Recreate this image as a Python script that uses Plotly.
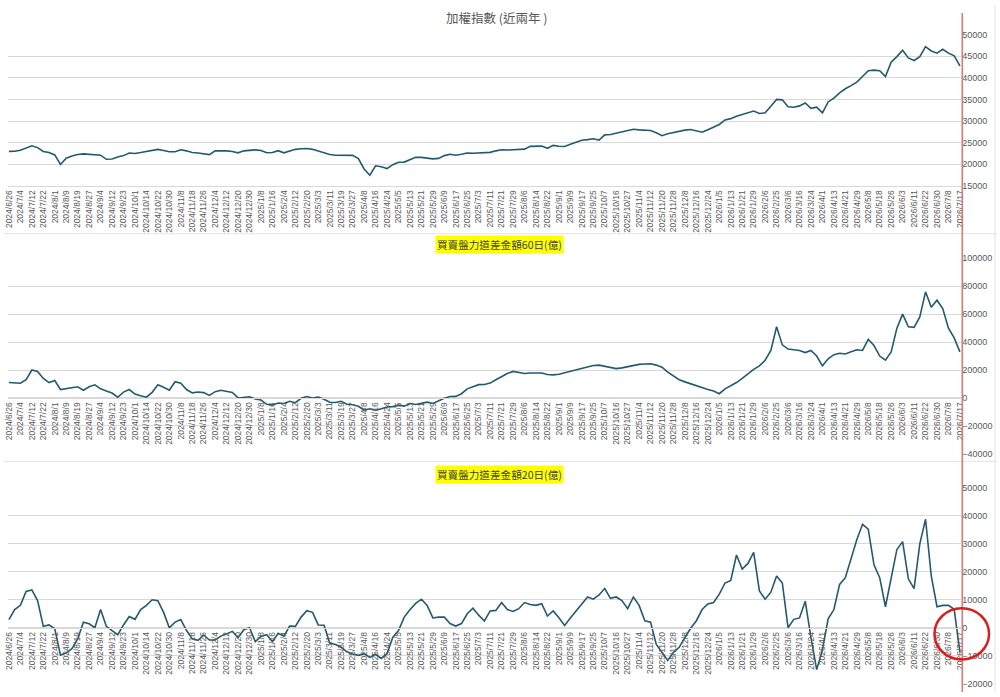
import plotly.graph_objects as go

# ---------------- data ----------------
tick_labels = [
    "2024/6/26", "2024/7/4", "2024/7/12", "2024/7/22", "2024/8/1", "2024/8/9", "2024/8/19", "2024/8/27",
    "2024/9/4", "2024/9/12", "2024/9/23", "2024/10/1", "2024/10/14", "2024/10/22", "2024/10/30", "2024/11/8",
    "2024/11/18", "2024/11/26", "2024/12/4", "2024/12/12", "2024/12/20", "2024/12/30", "2025/1/8", "2025/1/16",
    "2025/2/4", "2025/2/12", "2025/2/20", "2025/3/3", "2025/3/11", "2025/3/19", "2025/3/27", "2025/4/8",
    "2025/4/16", "2025/4/24", "2025/5/5", "2025/5/13", "2025/5/21", "2025/5/29", "2025/6/9", "2025/6/17",
    "2025/6/25", "2025/7/3", "2025/7/11", "2025/7/21", "2025/7/29", "2025/8/6", "2025/8/14", "2025/8/22",
    "2025/9/1", "2025/9/9", "2025/9/17", "2025/9/25", "2025/10/7", "2025/10/16", "2025/10/27", "2025/11/4",
    "2025/11/12", "2025/11/20", "2025/11/28", "2025/12/8", "2025/12/16", "2025/12/24", "2026/1/5", "2026/1/13",
    "2026/1/21", "2026/1/29", "2026/2/6", "2026/2/25", "2026/3/6", "2026/3/16", "2026/3/24", "2026/4/1",
    "2026/4/13", "2026/4/21", "2026/4/29", "2026/5/8", "2026/5/18", "2026/5/26", "2026/6/3", "2026/6/11",
    "2026/6/22", "2026/6/30", "2026/7/8", "2026/7/17",
]
DAYS_PER_LABEL = 6   # trading days between tick labels
DAYS_PER_POINT = 3   # trading days between sampled values

# 加權指數 (sampled every 3 trading days)
taiex = [
    22990, 23000, 23250, 23700, 24270, 23850, 22950, 22700, 22150, 19950,
    21400, 21900, 22250, 22400, 22250, 22230, 22100, 21150, 21200, 21700,
    22000, 22600, 22500, 22700, 23000, 23300, 23450, 23200, 22900, 22900,
    23350, 23100, 22700, 22600, 22450, 22230, 23100, 23150, 23100, 22950,
    22650, 23100, 23250, 23330, 23200, 22650, 22700, 23150, 22650, 23100,
    23450, 23600, 23650, 23450, 23000, 22600, 22250, 22100, 22100, 22200,
    22050, 21300, 18900, 17450, 19650, 19410, 19000, 19900, 20480, 20500,
    21000, 21610, 21600, 21500, 21250, 21350, 22000, 22300, 22100, 22300,
    22600, 22550, 22600, 22550, 22750, 23100, 23370, 23300, 23370, 23450,
    23500, 24140, 24250, 24200, 23700, 24370, 24150, 24100, 24650, 25100,
    25550, 25700, 25900, 25600, 26800, 26900, 27200, 27650, 27900, 28090,
    27950, 27900, 27800, 27300, 26600, 27050, 27350, 27600, 27900, 28050,
    27700, 27400, 28000, 28600, 29200, 30250, 30550, 31100, 31500, 31900,
    32300, 31750, 31900, 33400, 35000, 34900, 33300, 33200, 33500, 34180,
    32950, 33200, 31900, 34410, 35300, 36500, 37460, 38200, 39000, 40300,
    41640, 41780, 41640, 40300, 43600, 44900, 46360, 44600, 44000, 44900,
    47200, 46200, 45700, 46600, 45700, 45100, 42780,
]

# 買賣盤力道差金額60日(億)
diff60 = [
    11000, 10500, 10500, 13000, 20000, 19000, 14000, 11000, 12500, 6000,
    6500, 7000, 8000, 5500, 8000, 9400, 6500, 5000, 3500, 500,
    4200, 6000, 2800, 1500, 500, 4000, 9400, 7700, 5500, 11600,
    10500, 6000, 3600, 4200, 3800, 1800, 4500, 5500, 4800, 3900,
    0, 500, 800, -800, -1500, -4600, -5000, -3600, -4000, -2400,
    -3400, -300, 1000, 0, 600, -900, -3100, -3300, -2400, -4500,
    -4900, -6000, -8800, -7800, -8800, -7800, -6500, -6200, -5200, -5900,
    -4000, -4700, -3800, -3000, -4000, -2000, -300, 1000, 1100, 3000,
    6500, 8000, 9500, 9600, 10600, 13000, 15500, 17500, 19000, 18500,
    17500, 17800, 18000, 17800, 16800, 16500, 17000, 18000, 19500, 20500,
    21500, 22500, 23200, 23500, 22500, 21500, 21000, 21500, 22500, 23500,
    24000, 24300, 24500, 23500, 22000, 18500, 15500, 13000, 11500, 10000,
    9000, 7500, 6000, 5000, 3000, 6500, 8500, 11000, 14000, 17500,
    20500, 23000, 27000, 34000, 51000, 38000, 35000, 34500, 34000, 32500,
    34000, 30000, 23000, 28000, 31000, 32000, 31500, 33000, 34500, 34000,
    42000, 37500, 30000, 27000, 33000, 50000, 60000, 51000, 50600, 58000,
    76000, 65000, 70000, 64000, 50000, 43000, 33000,
]

# 買賣盤力道差金額20日(億)
diff20 = [
    2900, 6500, 8000, 13000, 13500, 9700, 500, 1000, -400, -9800,
    -9000, -7500, -4000, 2000, 1400, 0, 6500, 500, -1000, -2500,
    1000, 4000, 3000, 6500, 8000, 10000, 9700, 5500, 0, 2000,
    2900, -1000, -4000, -4500, -2600, -4400, -4400, -3000, -2200, -1300,
    -3500, -700, 0, -5000, -3100, -2500, -5000, -2000, -3000, 600,
    500, 3800, 6100, 5500, 1000, 900, -5500, -6000, -7000, -8600,
    -9400, -9900, -9300, -10600, -9500, -11000, -9300, -3500, -1000, 3800,
    6400, 8700, 10200, 8000, 3500, 3800, 3800, 1500, 600, 1500,
    5000, 7000, 4500, 2400, 6000, 6200, 9000, 6500, 5800, 6800,
    9000, 8300, 8000, 8600, 4200, 6000, 3600, 800, 3500, 6000,
    8500, 11000, 10200, 11700, 14000, 10500, 11000, 9700, 6800, 11000,
    8000, 2500, 2000, -6000, -8800, -11700, -8800, -7000, -3500, -200,
    2500, 6500, 8500, 9000, 12000, 16000, 16900, 26000, 21000, 23000,
    27000, 13200, 10200, 12700, 18500, 16000, 0, 3000, 3500, 9500,
    -3500, -15000, -8000, 3200, 6500, 15500, 17900, 25000, 31500, 37000,
    35300, 22500, 17900, 7500, 17500, 28000, 30800, 17500, 14000, 30000,
    38800, 18500, 7500, 8000, 8000, 6600, -8700,
]

titles = ["加權指數 (近兩年 )", "買賣盤力道差金額60日(億)", "買賣盤力道差金額20日(億)"]
y_ranges = [(15000, 50000), (-40000, 100000), (-20000, 50000)]
y_dtick = [5000, 20000, 10000]

# ---------------- figure ----------------
W, H = 1000, 697
LINE = "#225a70"
GRID = "#d9d9d9"
TICKC = "#595959"

def py(pix):
    return 1 - pix / H

x_dom = [0.004, 0.964]
panels = [(30, 183.5), (257, 455.3), (490, 688.5)]
series = [taiex, diff60, diff20]

fig = go.Figure()
tickvals = [k * DAYS_PER_LABEL for k in range(len(tick_labels))]

for p, (vals, (top, bot)) in enumerate(zip(series, panels)):
    xs = [i * DAYS_PER_POINT for i in range(len(vals))]
    sfx = "" if p == 0 else str(p + 1)
    fig.add_trace(go.Scatter(
        x=xs, y=vals, mode="lines", xaxis="x" + sfx, yaxis="y" + sfx,
        line=dict(color=LINE, width=1.6), showlegend=False, hoverinfo="skip"))
    lo, hi = y_ranges[p]
    ydom = [py(bot), py(top)]
    xa = dict(domain=x_dom, range=[-0.5, 498.7], tickmode="array", tickvals=tickvals,
              ticktext=tick_labels, tickangle=-90, showgrid=False, zeroline=False,
              tickfont=dict(size=8.5, color=TICKC, family="Liberation Sans"),
              showline=True, linecolor=GRID, linewidth=1, ticks="",
              ticklabeloverflow="allow")
    if p == 0:
        xa.update(anchor="y")
    else:
        zero_pix = top + (hi - 0) / (hi - lo) * (bot - top)
        xa.update(anchor="free", position=py(zero_pix))
    ya = dict(domain=ydom, range=[lo, hi], dtick=y_dtick[p], side="right",
              anchor="x" + sfx, showgrid=True, gridcolor=GRID, gridwidth=1,
              zeroline=False, showline=False, ticks="",
              tickfont=dict(size=9, color=TICKC, family="Liberation Sans"),
              tickformat="d", ticklabeloverflow="allow")
    fig.layout["xaxis" + sfx] = xa
    fig.layout["yaxis" + sfx] = ya

annotations = [
    dict(text=titles[0], x=496 / W, y=py(13), xref="paper", yref="paper",
         xanchor="center", yanchor="middle",
         showarrow=False, font=dict(size=12.5, color="#595959", family="Noto Sans CJK TC")),
    dict(text=titles[1], x=498.5 / W, y=py(243), xref="paper", yref="paper",
         xanchor="center", yanchor="middle",
         showarrow=False, bgcolor="#ffff00", borderpad=1,
         font=dict(size=10.6, color="#404040", family="Noto Sans CJK TC")),
    dict(text=titles[2], x=498.5 / W, y=py(476), xref="paper", yref="paper",
         xanchor="center", yanchor="middle",
         showarrow=False, bgcolor="#ffff00", borderpad=1,
         font=dict(size=10.6, color="#404040", family="Noto Sans CJK TC")),
]

shapes = [
    dict(type="line", xref="paper", yref="paper", x0=0, x1=1, y0=py(232), y1=py(232),
         line=dict(color="#e3e3e3", width=1)),
    dict(type="line", xref="paper", yref="paper", x0=0, x1=1, y0=py(463), y1=py(463),
         line=dict(color="#e3e3e3", width=1)),
    dict(type="line", xref="paper", yref="paper", x0=998 / W, x1=998 / W, y0=0, y1=1,
         line=dict(color="#e3e3e3", width=1)),
    dict(type="line", xref="paper", yref="paper", x0=965 / W, x1=965 / W, y0=0, y1=py(8),
         line=dict(color="#e57373", width=1.5)),
    dict(type="circle", xref="paper", yref="paper", x0=937 / W, x1=992 / W,
         y0=py(664), y1=py(612), line=dict(color="#d81e1e", width=2.5)),
]

fig.update_layout(
    width=W, height=H, margin=dict(l=0, r=0, t=0, b=0),
    paper_bgcolor="white", plot_bgcolor="white",
    annotations=annotations, shapes=shapes,
)

fig.write_html("out.html", config={"displayModeBar": False},
               post_script="document.body.style.margin='0';document.body.style.overflow='hidden';")
